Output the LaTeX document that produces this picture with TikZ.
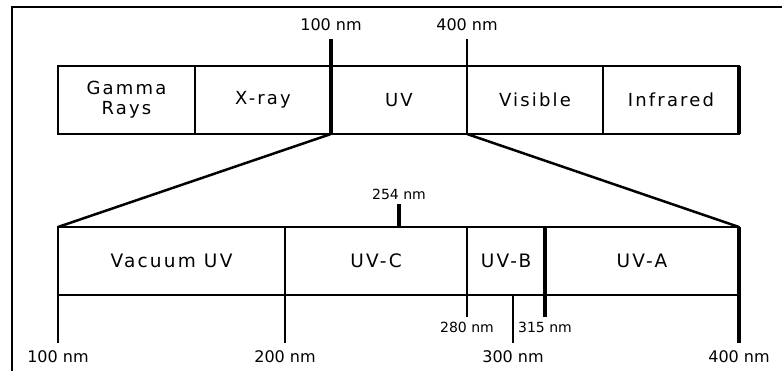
\documentclass[tikz,border=0pt]{standalone}
\usepackage{fontspec}
\setmainfont{DejaVu Sans}
\newfontfamily\bandfont[LetterSpace=12]{DejaVu Sans}

\tikzset{
  band/.style={draw,line width=1.5pt,anchor=north west,minimum height=68pt,
    inner sep=0pt,outer sep=0pt,align=center},
  topband/.style={band,font=\bandfont\fontsize{18}{18}\selectfont},
  lowband/.style={band,font=\bandfont\fontsize{18.5}{19}\selectfont},
  nmbig/.style={inner sep=8pt,font=\fontsize{16}{18}\selectfont},
  nmsmall/.style={inner sep=5pt,font=\fontsize{14}{16}\selectfont},
  fine/.style={line width=1.5pt},
  fan/.style={line width=2.5pt},
  heavy/.style={line width=4pt}
}

\begin{document}
\begin{tikzpicture}[x=1pt,y=-1pt]
  \useasboundingbox (0,0) rectangle (782,371);
  % frame
  \draw[line width=2pt] (12,380) -- (12,7) -- (790,7);

  % whole spectrum
  \node[topband,minimum width=137pt] (gamma) at (58,66) {Gamma\\[2pt]Rays};
  \node[topband,minimum width=136pt] (xray) at (gamma.north east) {X-ray};
  \node[topband,minimum width=136pt] (uv) at (xray.north east) {UV};
  \node[topband,minimum width=136pt] (vis) at (uv.north east) {Visible};
  \node[topband,minimum width=136pt] (ir) at (vis.north east) {Infrared};
  \draw[heavy] (ir.north east) -- (ir.south east);

  \node[nmbig] (t100) at (331,25) {100 nm};
  \node[nmbig] (t400) at (467,25) {400 nm};
  \draw[heavy] (t100) -- (uv.south west);
  \draw[fine] (t400) -- (uv.south east);

  % UV detail
  \node[lowband,minimum width=227pt] (vac) at (58,227) {Vacuum UV};
  \node[lowband,minimum width=182pt] (uvc) at (vac.north east) {UV-C};
  \node[lowband,minimum width=78pt] (uvb) at (uvc.north east) {UV-B};
  \node[lowband,minimum width=194pt] (uva) at (uvb.north east) {UV-A};

  \draw[fan] (uv.south west) -- (vac.north west);
  \draw[fan] (uv.south east) -- (uva.north east);

  \node[nmsmall] (t254) at (399,194) {254 nm};
  \draw[heavy] (t254) -- (t254 |- uvc.north);

  % scale below
  \node[nmbig] (b100) at (58,357) {100 nm};
  \node[nmbig] (b200) at (285,357) {200 nm};
  \node[nmbig] (b300) at (513,357) {300 nm};
  \node[nmbig] (b400) at (739,357) {400 nm};
  \node[nmsmall] (b280) at (467,327) {280 nm};
  \node[nmsmall] (b315) at (545,327) {315 nm};
  \draw[fine] (vac.south west) -- (b100);
  \draw[fine] (vac.south east) -- (b200);
  \draw[fine] (b300 |- uvb.south) -- (b300);
  \draw[fine] (uvc.south east) -- (b280);
  \draw[heavy] (uvb.north east) -- (b315);
  \draw[heavy] (uva.north east) -- (b400);
\end{tikzpicture}
\end{document}
